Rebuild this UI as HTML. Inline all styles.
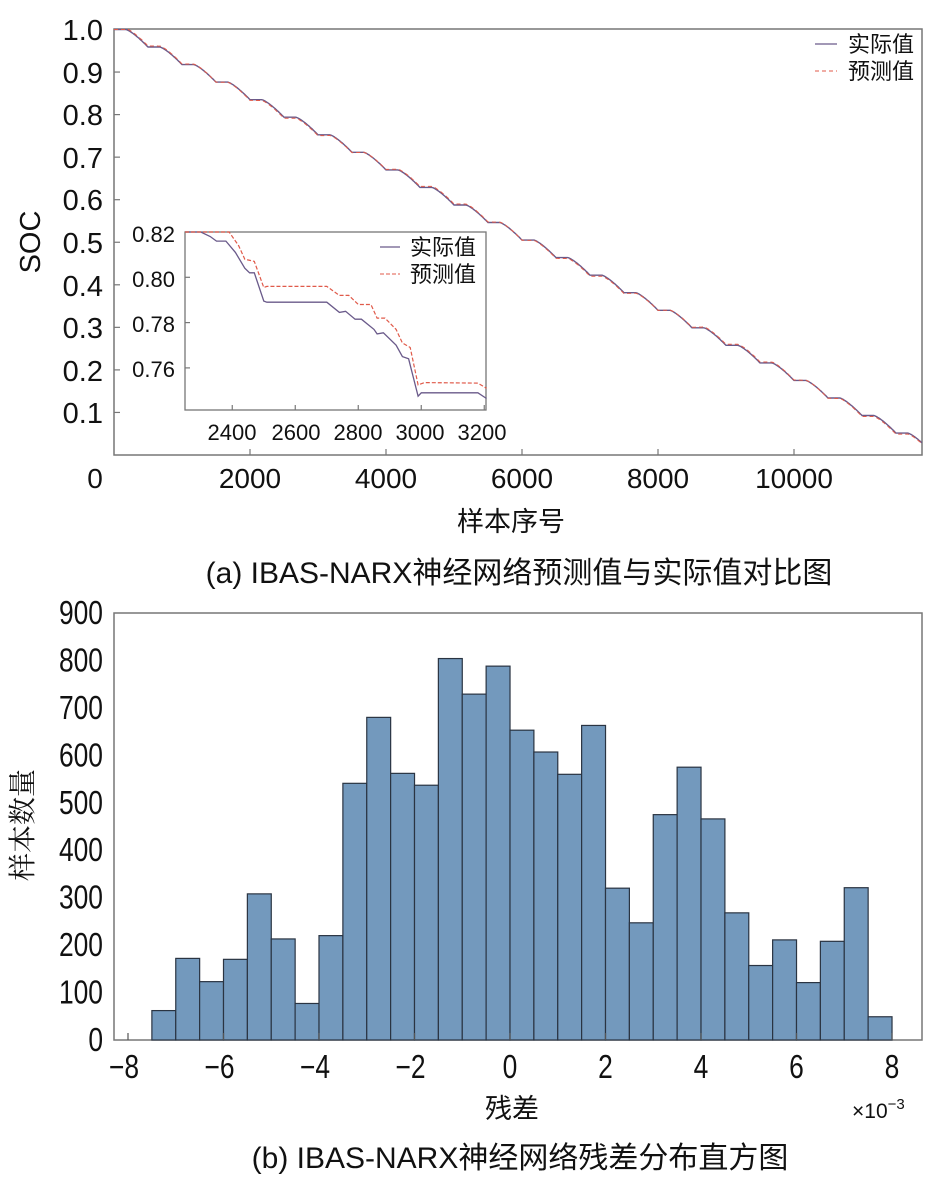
<!DOCTYPE html>
<html><head><meta charset="utf-8"><style>
body{margin:0;background:#fff}
svg{display:block}
text{font-family:"Liberation Sans","Noto Sans CJK SC",sans-serif;fill:#111}
</style></head><body>
<svg id="s" width="931" height="1191" viewBox="0 0 931 1191" xmlns="http://www.w3.org/2000/svg">
<rect x="114" y="29" width="808" height="426" fill="#fff" stroke="#777" stroke-width="1.5"/>
<g font-size="29" text-anchor="end">
<text x="103" y="40">1.0</text><text x="103" y="83">0.9</text><text x="103" y="125">0.8</text>
<text x="103" y="168">0.7</text><text x="103" y="210">0.6</text><text x="103" y="253">0.5</text>
<text x="103" y="296">0.4</text><text x="103" y="338">0.3</text><text x="103" y="381">0.2</text>
<text x="103" y="423">0.1</text>
</g>
<g font-size="28" text-anchor="middle">
<text x="95" y="488">0</text><text x="250" y="488">2000</text><text x="386" y="488">4000</text>
<text x="522" y="488">6000</text><text x="658" y="488">8000</text><text x="794" y="488">10000</text>
<text x="511" y="531" font-size="27">样本序号</text>
<text x="519" y="583" font-size="30">(a) IBAS-NARX神经网络预测值与实际值对比图</text>
</g>
<text transform="translate(40 242) rotate(-90)" font-size="29" text-anchor="middle">SOC</text>
<g id="ticksA" stroke="#777" stroke-width="1.2"></g>
<path id="mainA" fill="none" stroke="#6a5a8a" stroke-width="1.4"/>
<path id="mainP" fill="none" stroke="#e05a4a" stroke-width="1" stroke-dasharray="4 3"/>
<g font-size="22"><line x1="815" y1="44" x2="837" y2="44" stroke="#6a5a8a" stroke-width="1.3"/><text x="848" y="52">实际值</text>
<line x1="815" y1="71" x2="837" y2="71" stroke="#e05a4a" stroke-dasharray="4 3"/><text x="848" y="79">预测值</text></g>
<rect x="185" y="232" width="301" height="178" fill="#fff" stroke="#777" stroke-width="1.3"/>
<g font-size="22" text-anchor="end">
<text x="175" y="242">0.82</text><text x="175" y="287">0.80</text><text x="175" y="332">0.78</text><text x="175" y="377">0.76</text>
</g>
<g font-size="22" text-anchor="middle">
<text x="232" y="440">2400</text><text x="296" y="440">2600</text><text x="358" y="440">2800</text><text x="420" y="440">3000</text><text x="482" y="440">3200</text>
</g>
<g id="ticksI" stroke="#777" stroke-width="1.2"></g>
<path id="inA" fill="none" stroke="#6a5a8a" stroke-width="1.3"/>
<path id="inP" fill="none" stroke="#e05a4a" stroke-width="1.2" stroke-dasharray="4 2"/>
<g font-size="22"><line x1="380" y1="247" x2="400" y2="247" stroke="#6a5a8a" stroke-width="1.3"/><text x="410" y="255">实际值</text>
<line x1="380" y1="274" x2="400" y2="274" stroke="#e05a4a" stroke-dasharray="4 2"/><text x="410" y="282">预测值</text></g>
<rect x="114" y="613" width="808" height="427" fill="none" stroke="#777" stroke-width="1.5"/>
<g id="bars"></g>
<g id="ticksH" stroke="#555" stroke-width="1.2"></g>
<g id="hl" font-size="33" text-anchor="end"></g>
<g id="hx" font-size="33" text-anchor="middle"></g>
<text transform="translate(32 825) rotate(-90)" font-size="28" text-anchor="middle" style="font-family:'Liberation Serif','Noto Serif CJK SC',serif">样本数量</text>
<text x="512" y="1118" font-size="27" text-anchor="middle">残差</text>
<text x="852" y="1118" font-size="21">×10<tspan dy="-9" font-size="15">−3</tspan></text>
<text x="520" y="1168" font-size="30" text-anchor="middle">(b) IBAS-NARX神经网络残差分布直方图</text>
</svg>
<script>
const NS="http://www.w3.org/2000/svg";
function el(p,t,a,txt){const e=document.createElementNS(NS,t);for(const k in a)e.setAttribute(k,a[k]);if(txt!==undefined)e.textContent=txt;document.getElementById(p).appendChild(e);}
const X=t=>114+t*136/2000, Y=v=>455-v*425.5;
const P=500,N=11882/P;
function soc(t,off){const k=Math.floor(t/P),ph=(t%P)/P;let g=ph<0.35?0:Math.pow((ph-0.35)/0.65,1.3);const v=1-0.98*(k+g)/N;return Math.min(1,v+off);}
let a="",p="";
for(let t=0;t<=11882;t+=10){const v=soc(t,0);const w=soc(t,0.0025*Math.sin(t/700+1));a+=(t?"L":"M")+X(t).toFixed(1)+" "+Y(v).toFixed(1);p+=(t?"L":"M")+X(t).toFixed(1)+" "+Y(w).toFixed(1);}
mainA.setAttribute("d",a);mainP.setAttribute("d",p);
for(let i=1;i<=5;i++)el("ticksA","line",{x1:X(i*2000),x2:X(i*2000),y1:455,y2:449});
for(let i=1;i<=9;i++)el("ticksA","line",{x1:114,x2:120,y1:Y(i/10),y2:Y(i/10)});
const IX=t=>185+(t-2250)*63/200, IY=v=>232+(0.82-v)*45.3/0.02;
const act=[[2250,0.822],[2300,0.822],[2330,0.818],[2350,0.816],[2380,0.816],[2410,0.811],[2440,0.804],[2455,0.802],[2470,0.802],[2500,0.7895],[2510,0.789],[2700,0.789],[2740,0.7845],[2760,0.785],[2790,0.7815],[2810,0.7815],[2850,0.777],[2860,0.775],[2880,0.7755],[2920,0.770],[2940,0.765],[2960,0.764],[2990,0.7475],[3000,0.749],[3180,0.749],[3207,0.7465]];
const pre=[[2250,0.828],[2320,0.828],[2350,0.824],[2390,0.821],[2420,0.814],[2440,0.808],[2470,0.807],[2500,0.7955],[2510,0.796],[2700,0.796],[2740,0.792],[2770,0.792],[2800,0.788],[2840,0.788],[2860,0.782],[2885,0.782],[2920,0.777],[2940,0.771],[2965,0.769],[2990,0.7525],[3010,0.7535],[3180,0.7533],[3207,0.751]];
const pth=arr=>arr.map((q,i)=>(i?"L":"M")+IX(q[0]).toFixed(1)+" "+Math.max(232,IY(q[1])).toFixed(1)).join("");
inA.setAttribute("d",pth(act));inP.setAttribute("d",pth(pre));
for(const t of [2400,2600,2800,3000,3200])el("ticksI","line",{x1:IX(t),x2:IX(t),y1:410,y2:405});
for(const v of [0.82,0.80,0.78,0.76])el("ticksI","line",{x1:185,x2:190,y1:IY(v),y2:IY(v)});
const H=[62,172,123,170,308,213,77,220,541,680,562,537,804,729,788,653,607,560,663,320,247,475,575,466,268,157,211,121,208,321,49];
const HX=v=>128+(v+8)*47.75, HY=n=>1040-n*427/900;
H.forEach((n,i)=>el("bars","rect",{x:HX(-7.5+i*0.5),y:HY(n),width:23.9,height:1040-HY(n),fill:"#7399bd",stroke:"#2a3442","stroke-width":1.2}));
for(let v=-8;v<=8;v+=2){el("ticksH","line",{x1:HX(v),x2:HX(v),y1:1040,y2:1033});el("hx","text",{x:0,y:0,transform:`translate(${HX(v)-(v<0?4:0)} 1078) scale(0.8 1)`},(v<0?"−":"")+Math.abs(v));}
for(let n=0;n<=900;n+=100){el("hl","text",{x:0,y:0,transform:`translate(103 ${HY(n)+11}) scale(0.8 1)`},n);}
</script>
</body></html>
